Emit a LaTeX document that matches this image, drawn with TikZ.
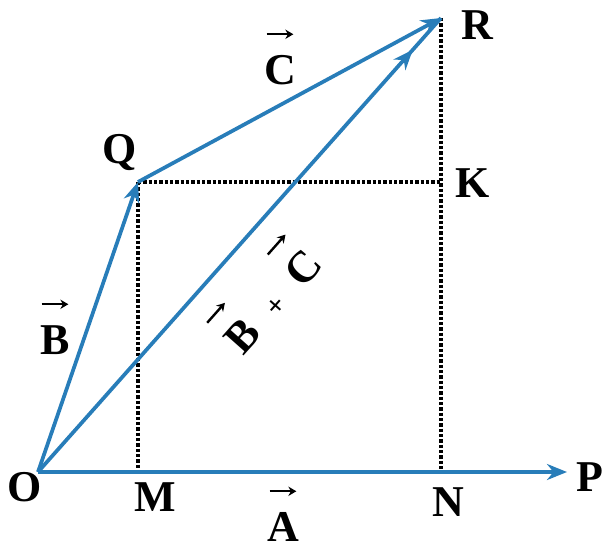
\documentclass[tikz,border=0pt]{standalone}
\usepackage{fontspec}
\setmainfont{Liberation Serif}
\usetikzlibrary{arrows.meta,decorations.markings}
\definecolor{vecblue}{RGB}{40,125,185}
\newcommand{\vlet}[1]{\begin{tabular}[b]{@{}c@{}}\tikz\draw[line width=1.8pt,-{Stealth[length=6pt,width=7pt]}] (0pt,0pt) -- (20pt,0pt);\\[-2pt]#1\end{tabular}}

\begin{document}
\begin{tikzpicture}[
  x=0.75pt, y=-0.75pt, >={Stealth[length=15pt,width=12pt]},
  every node/.style={font=\fontsize{33}{36}\selectfont\bfseries, inner sep=0pt},
  vec/.style={draw=vecblue, line width=2.8pt, ->},
  proj/.style={draw=black, line width=2.4pt, dash pattern=on 2.5pt off 1.5pt},
]
\useasboundingbox (0,0) rectangle (602,549);
\coordinate (O) at (38,472);
\coordinate (P) at (567,472);
\coordinate (Q) at (138,182);
\coordinate (R) at (441,18);
\coordinate (M) at (138,472);
\coordinate (N) at (441,472);
\coordinate (K) at (441,182);

\draw[proj] (Q) -- (M);
\draw[proj] (Q) -- (K);
\draw[proj] (R) -- (N);
\draw[vec] (O) -- (P);
\draw[vec] (O) -- (Q);
\draw[vec] (Q) -- (R);
\draw[vec, -, postaction={decorate},
  decoration={markings, mark=at position 0.93 with {\arrow[vecblue]{>}}}] (O) -- (R);

\node (lO) at (25,487) {O};
\node (lM) at (155,497) {M};
\node (lN) at (448,502) {N};
\node (lP) at (590,477) {P};
\node (lQ) at (120,152) {Q};
\node (lR) at (477,25) {R};
\node (lK) at (473,183) {K};
\node (lA) at (283,509) {\vlet{A}};
\node (lB) at (55,322) {\vlet{B}};
\node (lC) at (280,52) {\vlet{C}};
\node[rotate=48.4] (lBC) at (260,290)
  {\vlet{B}\enspace{\fontsize{22}{24}\selectfont+}\enspace\vlet{C}};
\end{tikzpicture}
\end{document}
